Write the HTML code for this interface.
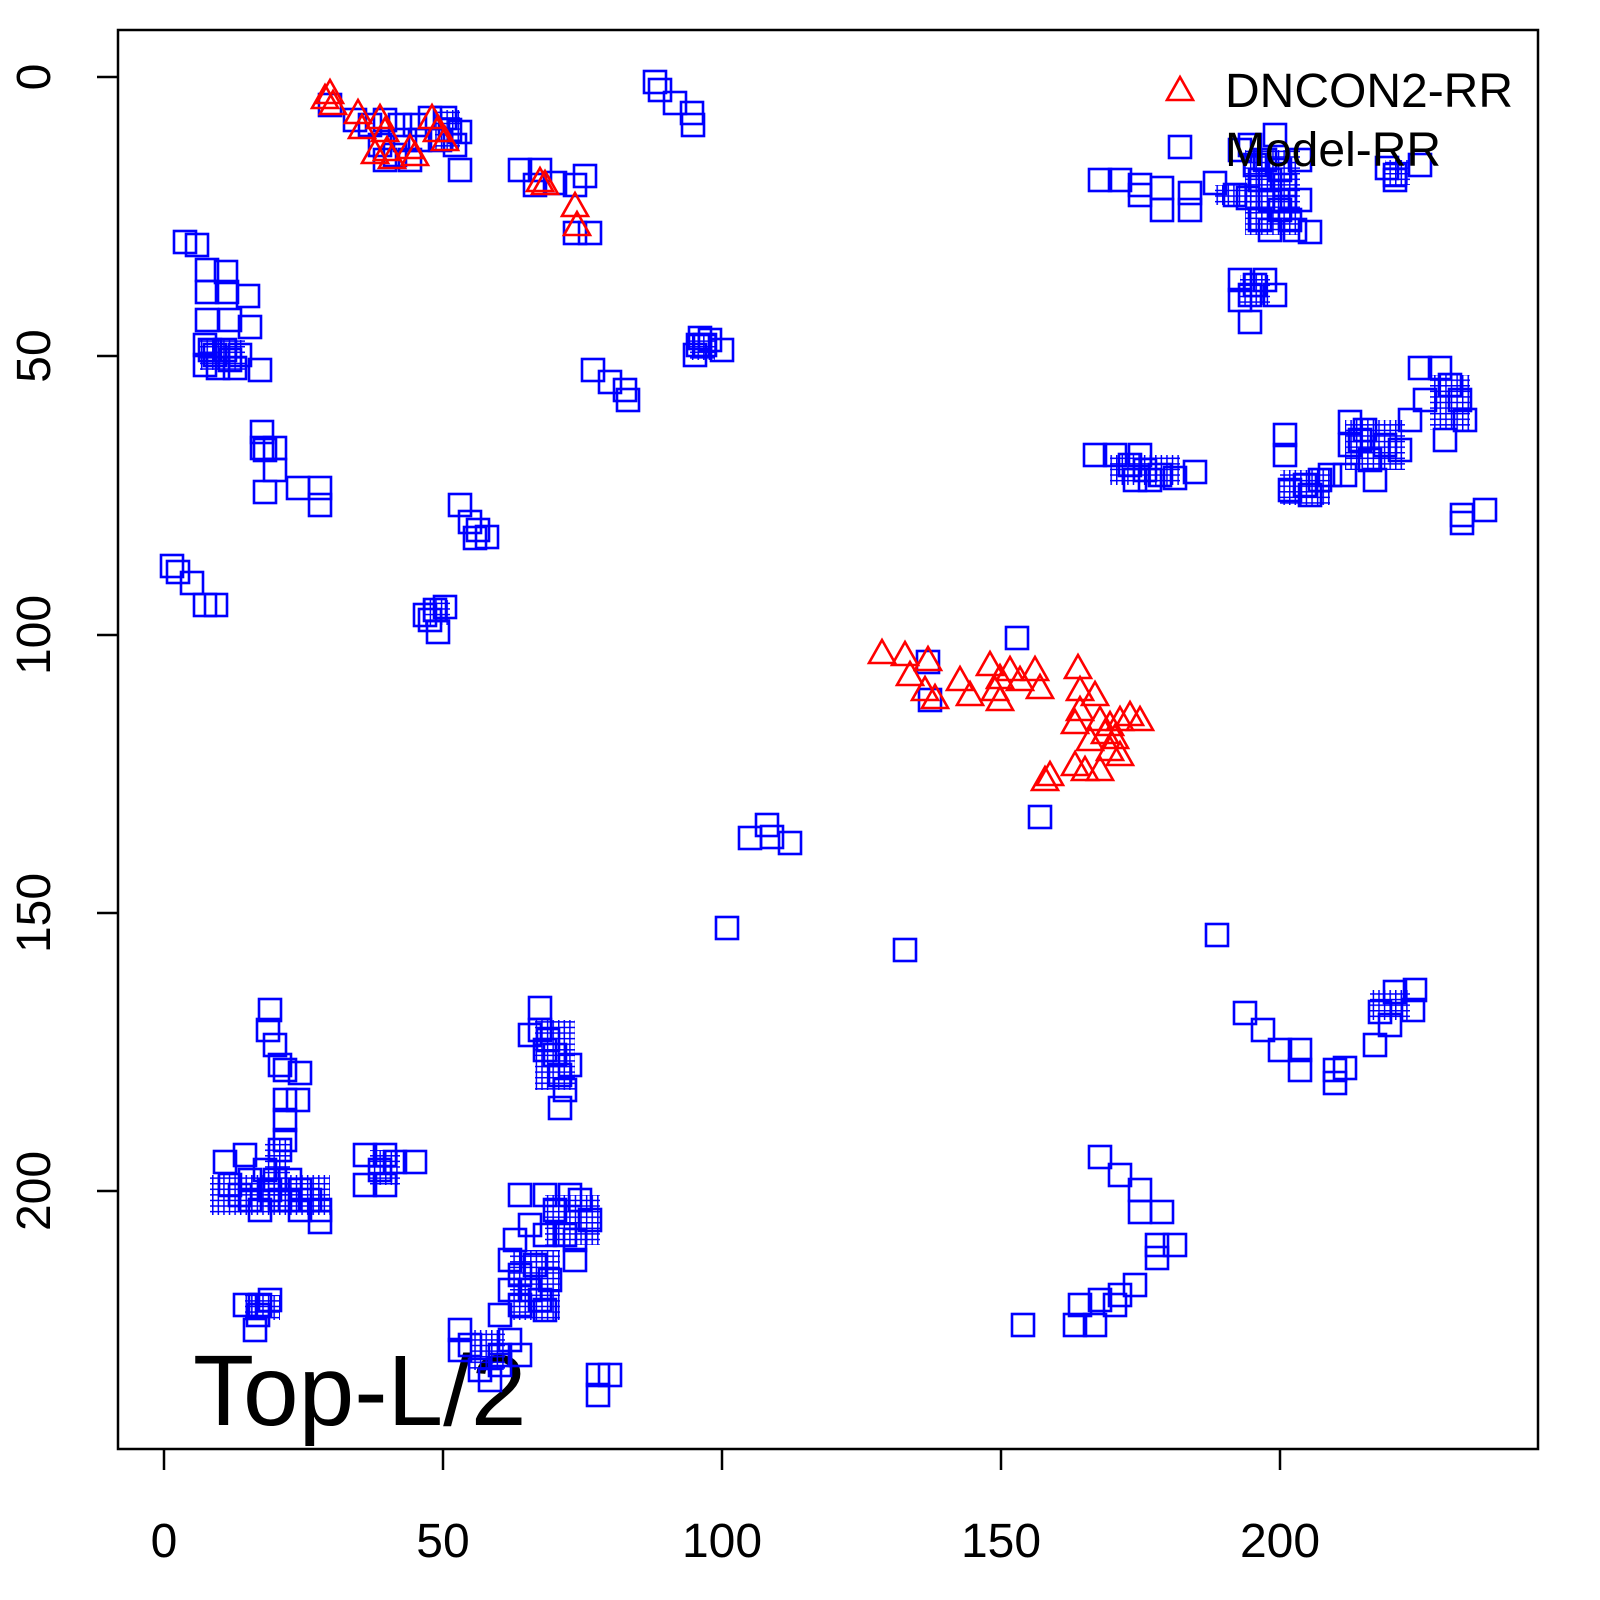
<!DOCTYPE html>
<html><head><meta charset="utf-8"><style>
html,body{margin:0;padding:0;background:#fff;}
svg{display:block;}
text{font-family:"Liberation Sans",sans-serif;fill:#000;}
</style></head><body>
<svg width="1600" height="1600" viewBox="0 0 1600 1600" xmlns="http://www.w3.org/2000/svg">
<defs>
<rect id="s" x="-11" y="-11" width="22" height="22" fill="none" stroke="#0000ff" stroke-width="2.6"/>
<polygon id="t" points="0,-15 13,8 -13,8" fill="none" stroke="#ff0000" stroke-width="2.6" stroke-linejoin="miter"/>
<pattern id="g" width="5.58" height="5.58" patternUnits="userSpaceOnUse">
<path d="M0,0 H5.58 M0,0 V5.58" stroke="#0000ff" stroke-width="3" fill="none"/>
</pattern>
</defs>
<rect x="118" y="30" width="1420" height="1419" fill="none" stroke="#000" stroke-width="2.5"/>
<g stroke="#000" stroke-width="2.5">
<line x1="164" y1="1449" x2="164" y2="1470"/><line x1="443" y1="1449" x2="443" y2="1470"/><line x1="722" y1="1449" x2="722" y2="1470"/><line x1="1001" y1="1449" x2="1001" y2="1470"/><line x1="1280" y1="1449" x2="1280" y2="1470"/>
<line x1="118" y1="77" x2="97" y2="77"/><line x1="118" y1="356" x2="97" y2="356"/><line x1="118" y1="635" x2="97" y2="635"/><line x1="118" y1="913" x2="97" y2="913"/><line x1="118" y1="1191" x2="97" y2="1191"/>
</g>
<g font-size="48" text-anchor="middle">
<text x="164" y="1557">0</text><text x="443" y="1557">50</text><text x="722" y="1557">100</text><text x="1001" y="1557">150</text><text x="1280" y="1557">200</text>
<text transform="translate(50,77) rotate(-90)">0</text>
<text transform="translate(50,356) rotate(-90)">50</text>
<text transform="translate(50,635) rotate(-90)">100</text>
<text transform="translate(50,913) rotate(-90)">150</text>
<text transform="translate(50,1191) rotate(-90)">200</text>
</g>
<text x="193" y="1425" font-size="100">Top-L/2</text>
<!-- dense mesh areas -->
<g fill="url(#g)">
<rect x="1245" y="150" width="55" height="85"/>
<rect x="1215" y="185" width="40" height="20"/>
<rect x="210" y="1175" width="120" height="40"/>
<rect x="265" y="1140" width="25" height="70"/>
<rect x="545" y="1195" width="55" height="50"/>
<rect x="510" y="1250" width="50" height="70"/>
<rect x="1345" y="420" width="60" height="50"/>
<rect x="1280" y="470" width="50" height="35"/>
<rect x="1430" y="375" width="40" height="55"/>
<rect x="200" y="340" width="45" height="30"/>
<rect x="435" y="110" width="25" height="40"/>
<rect x="370" y="1150" width="30" height="35"/>
<rect x="245" y="1295" width="35" height="25"/>
<rect x="535" y="1020" width="40" height="70"/>
<rect x="1385" y="160" width="25" height="25"/>
<rect x="1240" y="275" width="30" height="30"/>
<rect x="1110" y="455" width="70" height="30"/>
<rect x="690" y="335" width="25" height="25"/>
<rect x="425" y="600" width="25" height="25"/>
<rect x="1370" y="990" width="40" height="30"/>
<rect x="470" y="1330" width="35" height="40"/>
</g>
<g>
<use href="#s" x="330" y="105"/><use href="#s" x="355" y="120"/><use href="#s" x="370" y="125"/><use href="#s" x="385" y="120"/><use href="#s" x="400" y="125"/><use href="#s" x="415" y="125"/><use href="#s" x="430" y="118"/><use href="#s" x="445" y="118"/><use href="#s" x="460" y="132"/><use href="#s" x="455" y="145"/><use href="#s" x="460" y="170"/><use href="#s" x="380" y="145"/><use href="#s" x="395" y="155"/><use href="#s" x="410" y="160"/><use href="#s" x="420" y="140"/><use href="#s" x="440" y="140"/><use href="#s" x="385" y="160"/><use href="#s" x="450" y="130"/><use href="#s" x="405" y="140"/>
<use href="#s" x="520" y="170"/><use href="#s" x="540" y="170"/><use href="#s" x="555" y="183"/><use href="#s" x="575" y="185"/><use href="#s" x="585" y="176"/><use href="#s" x="575" y="233"/><use href="#s" x="590" y="233"/><use href="#s" x="535" y="185"/>
<use href="#s" x="655" y="82"/><use href="#s" x="660" y="90"/><use href="#s" x="675" y="103"/><use href="#s" x="692" y="113"/><use href="#s" x="693" y="125"/>
<use href="#s" x="185" y="242"/><use href="#s" x="197" y="245"/><use href="#s" x="207" y="270"/><use href="#s" x="226" y="272"/><use href="#s" x="207" y="292"/><use href="#s" x="227" y="292"/><use href="#s" x="248" y="296"/><use href="#s" x="207" y="320"/><use href="#s" x="230" y="320"/><use href="#s" x="250" y="327"/><use href="#s" x="205" y="345"/><use href="#s" x="215" y="355"/><use href="#s" x="225" y="350"/><use href="#s" x="240" y="355"/><use href="#s" x="205" y="365"/><use href="#s" x="218" y="368"/><use href="#s" x="235" y="368"/><use href="#s" x="260" y="370"/><use href="#s" x="210" y="350"/><use href="#s" x="230" y="360"/>
<use href="#s" x="262" y="432"/><use href="#s" x="265" y="450"/><use href="#s" x="275" y="448"/><use href="#s" x="275" y="470"/><use href="#s" x="265" y="492"/><use href="#s" x="298" y="488"/><use href="#s" x="320" y="488"/><use href="#s" x="320" y="505"/><use href="#s" x="262" y="448"/>
<use href="#s" x="172" y="566"/><use href="#s" x="178" y="572"/><use href="#s" x="192" y="583"/><use href="#s" x="205" y="605"/><use href="#s" x="216" y="605"/>
<use href="#s" x="460" y="505"/><use href="#s" x="470" y="522"/><use href="#s" x="478" y="530"/><use href="#s" x="487" y="537"/><use href="#s" x="475" y="538"/>
<use href="#s" x="425" y="615"/><use href="#s" x="435" y="610"/><use href="#s" x="445" y="607"/><use href="#s" x="438" y="632"/><use href="#s" x="430" y="620"/>
<use href="#s" x="700" y="338"/><use href="#s" x="705" y="345"/><use href="#s" x="695" y="355"/><use href="#s" x="710" y="340"/><use href="#s" x="722" y="350"/><use href="#s" x="698" y="345"/>
<use href="#s" x="593" y="370"/><use href="#s" x="610" y="382"/><use href="#s" x="625" y="390"/><use href="#s" x="628" y="400"/>
<use href="#s" x="1100" y="180"/><use href="#s" x="1120" y="180"/><use href="#s" x="1140" y="185"/><use href="#s" x="1140" y="195"/><use href="#s" x="1162" y="188"/><use href="#s" x="1162" y="210"/><use href="#s" x="1190" y="193"/><use href="#s" x="1190" y="210"/><use href="#s" x="1215" y="183"/><use href="#s" x="1235" y="195"/><use href="#s" x="1250" y="145"/><use href="#s" x="1255" y="165"/><use href="#s" x="1270" y="180"/><use href="#s" x="1270" y="200"/><use href="#s" x="1280" y="210"/><use href="#s" x="1290" y="220"/><use href="#s" x="1310" y="232"/><use href="#s" x="1260" y="220"/><use href="#s" x="1275" y="135"/><use href="#s" x="1248" y="198"/><use href="#s" x="1265" y="160"/><use href="#s" x="1285" y="185"/><use href="#s" x="1300" y="200"/><use href="#s" x="1295" y="230"/><use href="#s" x="1260" y="180"/><use href="#s" x="1280" y="170"/><use href="#s" x="1270" y="230"/><use href="#s" x="1285" y="200"/><use href="#s" x="1240" y="150"/><use href="#s" x="1300" y="160"/>
<use href="#s" x="1387" y="168"/><use href="#s" x="1395" y="175"/><use href="#s" x="1420" y="165"/><use href="#s" x="1395" y="180"/>
<use href="#s" x="1240" y="280"/><use href="#s" x="1250" y="295"/><use href="#s" x="1265" y="280"/><use href="#s" x="1275" y="295"/><use href="#s" x="1250" y="322"/><use href="#s" x="1240" y="300"/><use href="#s" x="1255" y="285"/>
<use href="#s" x="1095" y="455"/><use href="#s" x="1115" y="455"/><use href="#s" x="1130" y="465"/><use href="#s" x="1140" y="455"/><use href="#s" x="1150" y="480"/><use href="#s" x="1160" y="475"/><use href="#s" x="1175" y="478"/><use href="#s" x="1195" y="472"/><use href="#s" x="1135" y="480"/><use href="#s" x="1145" y="470"/>
<use href="#s" x="1285" y="435"/><use href="#s" x="1285" y="455"/><use href="#s" x="1290" y="490"/><use href="#s" x="1310" y="495"/><use href="#s" x="1320" y="480"/><use href="#s" x="1330" y="475"/><use href="#s" x="1345" y="475"/><use href="#s" x="1350" y="445"/><use href="#s" x="1350" y="422"/><use href="#s" x="1360" y="440"/><use href="#s" x="1370" y="460"/><use href="#s" x="1375" y="480"/><use href="#s" x="1385" y="445"/><use href="#s" x="1400" y="450"/><use href="#s" x="1410" y="420"/><use href="#s" x="1420" y="368"/><use href="#s" x="1440" y="368"/><use href="#s" x="1450" y="385"/><use href="#s" x="1460" y="400"/><use href="#s" x="1465" y="420"/><use href="#s" x="1445" y="440"/><use href="#s" x="1425" y="400"/><use href="#s" x="1365" y="430"/><use href="#s" x="1305" y="485"/>
<use href="#s" x="1462" y="515"/><use href="#s" x="1485" y="510"/><use href="#s" x="1462" y="523"/>
<use href="#s" x="1017" y="638"/><use href="#s" x="928" y="662"/><use href="#s" x="930" y="700"/><use href="#s" x="1040" y="817"/>
<use href="#s" x="750" y="838"/><use href="#s" x="767" y="825"/><use href="#s" x="772" y="837"/><use href="#s" x="790" y="843"/>
<use href="#s" x="727" y="928"/><use href="#s" x="905" y="950"/><use href="#s" x="1217" y="935"/>
<use href="#s" x="1245" y="1013"/><use href="#s" x="1263" y="1030"/><use href="#s" x="1280" y="1050"/><use href="#s" x="1300" y="1050"/><use href="#s" x="1300" y="1070"/><use href="#s" x="1335" y="1070"/><use href="#s" x="1345" y="1068"/><use href="#s" x="1375" y="1045"/><use href="#s" x="1380" y="1012"/><use href="#s" x="1390" y="1025"/><use href="#s" x="1395" y="992"/><use href="#s" x="1415" y="990"/><use href="#s" x="1413" y="1010"/><use href="#s" x="1335" y="1083"/>
<use href="#s" x="270" y="1010"/><use href="#s" x="268" y="1030"/><use href="#s" x="275" y="1045"/><use href="#s" x="280" y="1065"/><use href="#s" x="285" y="1070"/><use href="#s" x="300" y="1073"/><use href="#s" x="285" y="1100"/><use href="#s" x="298" y="1100"/><use href="#s" x="285" y="1120"/><use href="#s" x="285" y="1140"/><use href="#s" x="280" y="1150"/><use href="#s" x="225" y="1162"/><use href="#s" x="230" y="1185"/><use href="#s" x="245" y="1155"/><use href="#s" x="250" y="1180"/><use href="#s" x="250" y="1200"/><use href="#s" x="265" y="1170"/><use href="#s" x="275" y="1180"/><use href="#s" x="290" y="1180"/><use href="#s" x="300" y="1190"/><use href="#s" x="310" y="1200"/><use href="#s" x="320" y="1210"/><use href="#s" x="320" y="1222"/><use href="#s" x="300" y="1210"/><use href="#s" x="280" y="1200"/><use href="#s" x="260" y="1210"/><use href="#s" x="240" y="1195"/><use href="#s" x="270" y="1190"/><use href="#s" x="290" y="1200"/>
<use href="#s" x="365" y="1155"/><use href="#s" x="385" y="1155"/><use href="#s" x="395" y="1162"/><use href="#s" x="415" y="1162"/><use href="#s" x="365" y="1185"/><use href="#s" x="385" y="1185"/><use href="#s" x="380" y="1170"/>
<use href="#s" x="245" y="1305"/><use href="#s" x="260" y="1305"/><use href="#s" x="270" y="1300"/><use href="#s" x="255" y="1330"/><use href="#s" x="258" y="1315"/>
<use href="#s" x="540" y="1008"/><use href="#s" x="540" y="1030"/><use href="#s" x="545" y="1050"/><use href="#s" x="555" y="1055"/><use href="#s" x="560" y="1075"/><use href="#s" x="565" y="1090"/><use href="#s" x="560" y="1108"/><use href="#s" x="570" y="1065"/><use href="#s" x="530" y="1035"/><use href="#s" x="548" y="1040"/>
<use href="#s" x="520" y="1195"/><use href="#s" x="545" y="1195"/><use href="#s" x="555" y="1210"/><use href="#s" x="570" y="1195"/><use href="#s" x="580" y="1200"/><use href="#s" x="590" y="1220"/><use href="#s" x="575" y="1240"/><use href="#s" x="565" y="1235"/><use href="#s" x="575" y="1260"/><use href="#s" x="545" y="1235"/><use href="#s" x="530" y="1225"/><use href="#s" x="515" y="1240"/><use href="#s" x="510" y="1260"/><use href="#s" x="520" y="1275"/><use href="#s" x="530" y="1290"/><use href="#s" x="510" y="1290"/><use href="#s" x="500" y="1315"/><use href="#s" x="520" y="1305"/><use href="#s" x="540" y="1300"/><use href="#s" x="545" y="1310"/><use href="#s" x="510" y="1340"/><use href="#s" x="500" y="1365"/><use href="#s" x="490" y="1380"/><use href="#s" x="480" y="1370"/><use href="#s" x="460" y="1330"/><use href="#s" x="470" y="1345"/><use href="#s" x="460" y="1350"/><use href="#s" x="500" y="1355"/><use href="#s" x="520" y="1355"/><use href="#s" x="535" y="1265"/><use href="#s" x="550" y="1280"/>
<use href="#s" x="598" y="1375"/><use href="#s" x="610" y="1375"/><use href="#s" x="598" y="1395"/>
<use href="#s" x="1100" y="1157"/><use href="#s" x="1120" y="1175"/><use href="#s" x="1140" y="1190"/><use href="#s" x="1140" y="1212"/><use href="#s" x="1162" y="1212"/><use href="#s" x="1157" y="1245"/><use href="#s" x="1175" y="1245"/><use href="#s" x="1157" y="1258"/><use href="#s" x="1135" y="1285"/><use href="#s" x="1120" y="1295"/><use href="#s" x="1100" y="1300"/><use href="#s" x="1080" y="1305"/><use href="#s" x="1075" y="1325"/><use href="#s" x="1095" y="1325"/><use href="#s" x="1115" y="1305"/><use href="#s" x="1023" y="1325"/>
</g>
<g>
<use href="#t" x="330" y="95"/><use href="#t" x="325" y="100"/><use href="#t" x="333" y="106"/><use href="#t" x="358" y="115"/><use href="#t" x="362" y="130"/><use href="#t" x="380" y="120"/><use href="#t" x="385" y="133"/><use href="#t" x="387" y="152"/><use href="#t" x="375" y="155"/><use href="#t" x="392" y="160"/><use href="#t" x="410" y="150"/><use href="#t" x="415" y="157"/><use href="#t" x="432" y="120"/><use href="#t" x="437" y="133"/><use href="#t" x="445" y="142"/><use href="#t" x="540" y="183"/><use href="#t" x="545" y="186"/><use href="#t" x="575" y="208"/><use href="#t" x="577" y="227"/>
<use href="#t" x="882" y="655"/><use href="#t" x="905" y="657"/><use href="#t" x="910" y="677"/><use href="#t" x="925" y="692"/><use href="#t" x="935" y="700"/><use href="#t" x="928" y="662"/><use href="#t" x="960" y="682"/><use href="#t" x="970" y="697"/><use href="#t" x="990" y="667"/><use href="#t" x="995" y="692"/><use href="#t" x="1000" y="702"/><use href="#t" x="1010" y="672"/><use href="#t" x="1020" y="682"/><use href="#t" x="1035" y="672"/><use href="#t" x="1040" y="690"/><use href="#t" x="1000" y="680"/><use href="#t" x="1078" y="670"/><use href="#t" x="1080" y="692"/><use href="#t" x="1080" y="712"/><use href="#t" x="1095" y="697"/><use href="#t" x="1100" y="722"/><use href="#t" x="1110" y="727"/><use href="#t" x="1120" y="722"/><use href="#t" x="1130" y="717"/><use href="#t" x="1140" y="722"/><use href="#t" x="1090" y="742"/><use href="#t" x="1110" y="752"/><use href="#t" x="1120" y="757"/><use href="#t" x="1075" y="767"/><use href="#t" x="1050" y="777"/><use href="#t" x="1045" y="782"/><use href="#t" x="1100" y="772"/><use href="#t" x="1085" y="772"/><use href="#t" x="1075" y="725"/><use href="#t" x="1105" y="735"/><use href="#t" x="1115" y="740"/>
</g>
<use href="#t" x="1180" y="92"/>
<use href="#s" x="1180" y="147"/>
<text x="1225" y="107" font-size="48">DNCON2-RR</text>
<text x="1225" y="166" font-size="48">Model-RR</text>
</svg>
</body></html>
